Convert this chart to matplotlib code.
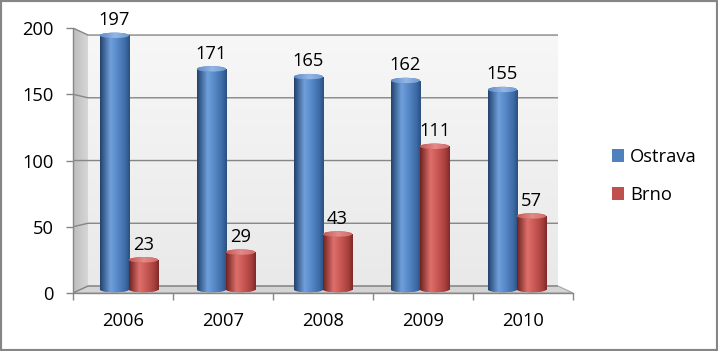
import numpy as np
import matplotlib
matplotlib.use("Agg")
import matplotlib.pyplot as plt
from matplotlib.colors import LinearSegmentedColormap
from matplotlib.patches import Ellipse, Polygon, Rectangle, Patch
from matplotlib.transforms import Affine2D

# data
years = ["2006", "2007", "2008", "2009", "2010"]
ostrava = [197, 171, 165, 162, 155]
brno = [23, 29, 43, 111, 57]
series_names = ["Ostrava", "Brno"]
y_ticks = [0, 50, 100, 150, 200]

plt.rcParams["font.family"] = ["Open Sans", "DejaVu Sans"]
fs = 13.2

fig = plt.figure(figsize=(7.18, 3.51), dpi=100)
ax = fig.add_axes([73 / 718, 58 / 351, 500 / 718, 265 / 351])
ax.set_xlim(-0.5, 4.5)
ax.set_ylim(0, 200)

n = len(years)
cx = (n - 1) / 2

# fake 3d: depth planes expressed as affine maps of the front plane
back_aff = Affine2D().translate(-cx, 0).scale(0.94, 0.947).translate(cx, 5.28)
mid_aff = Affine2D().translate(-cx, 0).scale(0.97, 0.9736).translate(cx, 2.64)
back_tr = back_aff + ax.transData
mid_tr = mid_aff + ax.transData


def grad_fill(clip, cmap, extent, tr, z, vertical=False):
    g = np.linspace(0, 1, 128)
    arr = g[:, None] if vertical else g[None, :]
    im = ax.imshow(arr, cmap=cmap, extent=extent, aspect="auto",
                   interpolation="bilinear", origin="lower", zorder=z)
    im.set_transform(tr)
    im.set_clip_path(clip)
    return im


# walls and floor
xl, xr = -0.5, n - 0.5
ymax = y_ticks[-1]
wall_cmap = LinearSegmentedColormap.from_list("wall", ["#e9e9e9", "#f7f7f7"])
back = Rectangle((xl, 0), xr - xl, ymax, transform=back_tr, facecolor="#f0f0f0",
                 edgecolor="none", zorder=0.3)
ax.add_patch(back)
grad_fill(back, wall_cmap, (xl, xr, 0, ymax), back_tr, 0.35, vertical=True)

fl = lambda x, y: (x, y)
bk = lambda x, y: tuple(back_aff.transform((x, y)))

left_wall = Polygon([fl(xl, 0), fl(xl, ymax), bk(xl, ymax), bk(xl, 0)],
                    facecolor="#cccccc", edgecolor="none", zorder=0.4)
ax.add_patch(left_wall)
side_cmap = LinearSegmentedColormap.from_list("side", ["#bdbdbd", "#d8d8d8"])
grad_fill(left_wall, side_cmap, (xl, bk(xl, 0)[0], 0, ymax), ax.transData, 0.45)

floor = Polygon([fl(xl, 0), fl(xr, 0), bk(xr, 0), bk(xl, 0)],
                facecolor="#d4d4d4", edgecolor="#a6a6a6", lw=0.8, zorder=0.5)
ax.add_patch(floor)

for v in y_ticks:
    pts = [fl(xl, v), bk(xl, v), bk(xr, v)]
    ax.plot([p[0] for p in pts], [p[1] for p in pts], color="#868686",
            lw=1.0, zorder=0.8, solid_capstyle="butt")

# cylinders
blue_cmap = LinearSegmentedColormap.from_list(
    "b", [(0, "#22426a"), (0.35, "#6f9fdc"), (0.55, "#5b8ccb"), (0.85, "#3d6ba6"), (1, "#2b4f7f")])
red_cmap = LinearSegmentedColormap.from_list(
    "r", [(0, "#6e2220"), (0.35, "#de6f6b"), (0.55, "#cd5c58"), (0.85, "#a8403d"), (1, "#7d2b29")])
blue_top = LinearSegmentedColormap.from_list("bt", ["#5e8ccb", "#94b6e4", "#6f9ad3"])
red_top = LinearSegmentedColormap.from_list("rt", ["#c25a57", "#e48a87", "#cf6b68"])

bw = 0.3
cap_h = 4.2
x = np.arange(n)
series = [(ostrava, -bw / 2, "#4f81bd", blue_cmap, blue_top),
          (brno, bw / 2, "#c0504d", red_cmap, red_top)]

for vals, off, base, cmap, tcmap in series:
    bars = ax.bar(x + off, vals, bw, color=base, edgecolor="none",
                  transform=mid_tr, zorder=2)
    for xi, v, rect in zip(x + off, vals, bars):
        x0, x1 = xi - bw / 2, xi + bw / 2
        grad_fill(rect, cmap, (x0, x1, 0, v), mid_tr, 2.1)
        bottom = Ellipse((xi, 0), bw, cap_h, transform=mid_tr,
                         facecolor=base, edgecolor="none", zorder=1.9)
        ax.add_patch(bottom)
        grad_fill(bottom, cmap, (x0, x1, -cap_h, 0), mid_tr, 1.95)
        top = Ellipse((xi, v), bw, cap_h, transform=mid_tr,
                      facecolor=base, edgecolor="none", zorder=2.2)
        ax.add_patch(top)
        grad_fill(top, tcmap, (x0, x1, v - cap_h, v + cap_h), mid_tr, 2.3)
        ax.annotate(str(v), xy=(xi, v), xycoords=mid_tr, xytext=(0, 11),
                    textcoords="offset points", ha="center", va="center",
                    fontsize=fs, color="black", zorder=4)

ax.set_xlim(-0.5, 4.5)
ax.set_ylim(0, 200)

# axes styling
for s in ["top", "right"]:
    ax.spines[s].set_visible(False)
for s in ["left", "bottom"]:
    ax.spines[s].set_color("#868686")
    ax.spines[s].set_linewidth(1.0)
    ax.spines[s].set_zorder(5)

ax.set_yticks(y_ticks)
ax.tick_params(axis="y", length=5, width=1, color="#868686", pad=9, labelsize=fs)
ax.set_xticks(np.arange(n + 1) - 0.5)
ax.set_xticklabels([])
ax.tick_params(axis="x", which="major", length=5, width=1, color="#868686")
ax.set_xticks(x, minor=True)
ax.set_xticklabels(years, minor=True)
ax.tick_params(axis="x", which="minor", length=0, pad=14, labelsize=fs)

handles = [Patch(facecolor="#4f81bd"), Patch(facecolor="#c0504d")]
fig.legend(handles, series_names, loc="center left",
           bbox_to_anchor=(595 / 718, 1 - 176 / 351), frameon=False,
           handlelength=0.7, handleheight=0.7, handletextpad=0.3,
           labelspacing=1.1, fontsize=fs)

fig.patches.append(Rectangle((0, 0), 1, 1, transform=fig.transFigure, fill=False,
                             edgecolor="#868686", lw=3))

fig.savefig("out.png", dpi=100)
